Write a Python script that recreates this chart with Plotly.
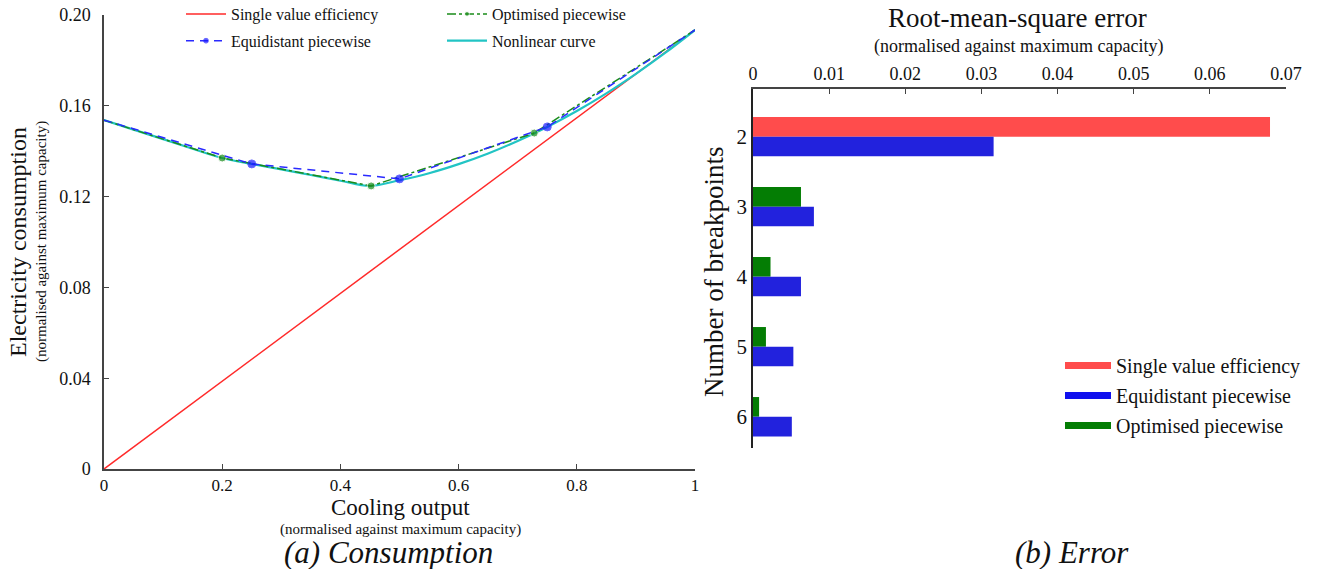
import plotly.graph_objects as go

# ---------------- data: (a) consumption ----------------
single_x = [0.0, 1.0]
single_y = [0.0, 0.1934]

curve_x = [0.0, 0.05, 0.10, 0.15, 0.20, 0.25, 0.30, 0.35, 0.40, 0.45,
           0.50, 0.55, 0.60, 0.65, 0.70, 0.75, 0.80, 0.85, 0.90, 0.95, 1.0]
curve_y = [0.1537, 0.1495, 0.1453, 0.1411, 0.1370, 0.1344, 0.1320, 0.1295, 0.1270, 0.1247,
           0.1272, 0.1303, 0.1343, 0.1390, 0.1445, 0.1507, 0.1577, 0.1655, 0.1741, 0.1834, 0.1934]

equi_x = [0.0, 0.25, 0.50, 0.75, 1.0]
equi_y = [0.1537, 0.1344, 0.1278, 0.1507, 0.1934]

opt_x = [0.0, 0.20, 0.452, 0.728, 1.0]
opt_y = [0.1537, 0.1370, 0.1247, 0.1480, 0.1934]

x_ticks = [0, 0.2, 0.4, 0.6, 0.8, 1.0]
x_ticktext = ["0", "0.2", "0.4", "0.6", "0.8", "1"]
y_ticks = [0, 0.04, 0.08, 0.12, 0.16, 0.20]
y_ticktext = ["0", "0.04", "0.08", "0.12", "0.16", "0.20"]

# ---------------- data: (b) error ----------------
breakpoints = [2, 3, 4, 5, 6]
rmse_single = [0.0679, None, None, None, None]
rmse_equi = [0.0316, 0.0080, 0.0063, 0.0053, 0.0051]
rmse_opt = [None, 0.0063, 0.0023, 0.0017, 0.0008]
err_ticks = [0, 0.01, 0.02, 0.03, 0.04, 0.05, 0.06, 0.07]
err_ticktext = ["0", "0.01", "0.02", "0.03", "0.04", "0.05", "0.06", "0.07"]

SERIF = "Liberation Serif"
W, H = 1317, 569

def px(x):
    return x / W

def py(y):
    return 1 - y / H

fig = go.Figure()

# ----- left chart traces -----
fig.add_trace(go.Scatter(x=single_x, y=single_y, mode="lines", name="Single value efficiency",
                         line=dict(color="#ff2a2a", width=1.5), legend="legend",
                         legendgroup="a1", legendrank=1, xaxis="x", yaxis="y"))
fig.add_trace(go.Scatter(x=curve_x, y=curve_y, mode="lines", name="Nonlinear curve",
                         line=dict(color="#22c4c4", width=2.2, shape="spline"), legend="legend3",
                         legendgroup="a4", legendrank=4, xaxis="x", yaxis="y"))
fig.add_trace(go.Scatter(x=opt_x, y=opt_y, mode="lines+markers", name="Optimised piecewise",
                         line=dict(color="#1a8c1a", width=1.5, dash="dashdot"),
                         marker=dict(size=[0, 8, 8, 8, 0], color="#1a8c1a"),
                         legend="legend3", legendgroup="a2", legendrank=2, xaxis="x", yaxis="y"))
fig.add_trace(go.Scatter(x=equi_x, y=equi_y, mode="lines+markers", name="Equidistant piecewise",
                         line=dict(color="#2a2aff", width=1.5, dash="8px,6px"),
                         marker=dict(size=[0, 8, 8, 8, 0], color="#1414ff"),
                         legend="legend", legendgroup="a3", legendrank=3, xaxis="x", yaxis="y"))

# ----- right chart traces -----
BW = 0.281
fig.add_trace(go.Bar(y=breakpoints, x=rmse_single, orientation="h", name="Single value efficiency",
                     marker=dict(color="#ff4c4c", line=dict(width=0)), width=BW, offset=-BW,
                     showlegend=False, xaxis="x2", yaxis="y2"))
fig.add_trace(go.Bar(y=breakpoints, x=rmse_opt, orientation="h", name="Optimised piecewise",
                     marker=dict(color="#047d04", line=dict(width=0)), width=BW, offset=-BW,
                     showlegend=False, xaxis="x2", yaxis="y2"))
fig.add_trace(go.Bar(y=breakpoints, x=rmse_equi, orientation="h", name="Equidistant piecewise",
                     marker=dict(color="#2222dd", line=dict(width=0)), width=BW, offset=0,
                     showlegend=False, xaxis="x2", yaxis="y2"))

# legend entries for bars (thick line keys)
for nm, col in [("Single value efficiency", "#ff4c4c"),
                ("Equidistant piecewise", "#1010ee"),
                ("Optimised piecewise", "#047d04")]:
    fig.add_trace(go.Scatter(x=[None], y=[None], mode="lines", name=nm,
                             line=dict(color=col, width=7), legend="legend2",
                             legendgroup="b_" + nm, xaxis="x2", yaxis="y2"))

axis_common = dict(showgrid=False, zeroline=False, showline=True, linecolor="#444", linewidth=1.5,
                   ticks="inside", tickcolor="#444", ticklen=5, automargin=False)
tick18 = dict(family=SERIF, size=18, color="#111")

left_legend = dict(orientation="v", xanchor="left", yanchor="top", y=py(-3),
                   font=dict(family=SERIF, size=16), bgcolor="rgba(0,0,0,0)",
                   tracegroupgap=3, traceorder="grouped", itemwidth=40)

fig.update_layout(
    width=W, height=H,
    margin=dict(l=0, r=0, t=0, b=0, autoexpand=False),
    paper_bgcolor="white", plot_bgcolor="white",
    barmode="overlay",
    font=dict(family=SERIF, color="#111"),
    xaxis=dict(domain=[px(104), px(695)], range=[0, 1], tickvals=x_ticks, ticktext=x_ticktext,
               anchor="y", tickfont=dict(family=SERIF, size=17, color="#111"), **axis_common),
    yaxis=dict(domain=[py(469), py(15)], range=[0, 0.2], tickvals=y_ticks, ticktext=y_ticktext,
               anchor="x", ticklabelstandoff=8, tickfont=tick18, **axis_common),
    xaxis2=dict(domain=[px(753), px(1286)], range=[0, 0.07], tickvals=err_ticks,
                ticktext=err_ticktext, side="top", anchor="y2", tickfont=tick18, **axis_common),
    yaxis2=dict(domain=[py(448), py(89)], range=[6.447, 1.319], tickvals=breakpoints,
                ticktext=[str(b) for b in breakpoints], anchor="x2", automargin=False,
                showgrid=False, zeroline=False, showline=True, linecolor="#222", linewidth=1.5,
                ticks="", tickfont=dict(family=SERIF, size=21, color="#111")),
    legend=dict(x=px(181), **left_legend),
    legend3=dict(x=px(442), **left_legend),
    legend2=dict(orientation="v", x=px(1060), y=py(346), xanchor="left", yanchor="top",
                 font=dict(family=SERIF, size=20), bgcolor="rgba(0,0,0,0)",
                 tracegroupgap=1, traceorder="grouped", itemwidth=46),
    showlegend=True,
)

annotations = [
    dict(text="Electricity consumption", x=px(18), y=py(242), textangle=-90, font=dict(size=24)),
    dict(text="(normalised against maximum capacity)", x=px(41), y=py(242), textangle=-90,
         font=dict(size=15)),
    dict(text="Cooling output", x=px(400), y=py(507), font=dict(size=23)),
    dict(text="(normalised against maximum capacity)", x=px(400), y=py(529), font=dict(size=15)),
    dict(text="<i>(a) Consumption</i>", x=px(388), y=py(552), font=dict(size=31)),
    dict(text="Root-mean-square error", x=px(1017), y=py(18), font=dict(size=27)),
    dict(text="(normalised against maximum capacity)", x=px(1018), y=py(47), font=dict(size=18)),
    dict(text="Number of breakpoints", x=px(714), y=py(272), textangle=-90, font=dict(size=27)),
    dict(text="<i>(b) Error</i>", x=px(1072), y=py(552), font=dict(size=31)),
]
for a in annotations:
    a.update(xref="paper", yref="paper", showarrow=False, xanchor="center", yanchor="middle")
    a["font"].update(family=SERIF, color="#111")
fig.update_layout(annotations=annotations)

fig.write_html("out.html")
